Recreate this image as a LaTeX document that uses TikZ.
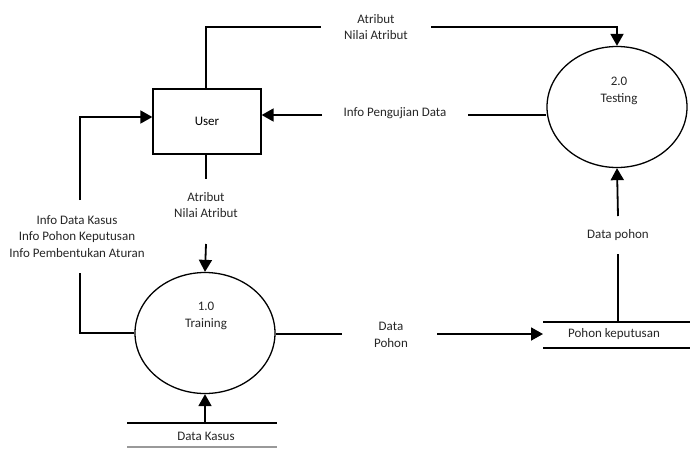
\documentclass[tikz,border=0pt]{standalone}
\usepackage{fontspec}
\setmainfont{Carlito}
\usetikzlibrary{arrows.meta,shapes.geometric}
\begin{document}
\begin{tikzpicture}[x=1pt,y=-1pt,
  every node/.style={font=\fontsize{13}{16.5}\selectfont, align=center, inner sep=0pt},
  flow/.style={line width=1.8pt},
  arr/.style={flow,-{Triangle[length=12pt,width=13pt]}},
  proc/.style={draw, ellipse, line width=1.3pt, minimum width=140pt, minimum height=121pt},
  ent/.style={draw, rectangle, line width=1.3pt, minimum width=108pt, minimum height=65pt},
  lbl/.style={text=black!85}
]
\useasboundingbox (0,0) rectangle (690,448);

% main nodes
\node[ent] (user) at (207,121.5) {User};
\node[proc] (train) at (205,333) {};
\node[lbl] (traint) at (206,316) {1.0\\Training};
\node[proc] (test) at (617,107) {};
\node[lbl] (testt) at (619,91) {2.0\\Testing};

% data stores
\coordinate (pkTL) at (543,322);
\coordinate (pkTR) at (690,322);
\coordinate (pkBL) at (543,348);
\coordinate (pkBR) at (690,348);
\draw[line width=1.6pt] (pkTL) -- (pkTR);
\draw[line width=1.6pt] (pkBL) -- (pkBR);
\node[lbl] (pk) at (614,334) {Pohon keputusan};

\coordinate (dkTL) at (127,423);
\coordinate (dkTR) at (277,423);
\coordinate (dkBL) at (127,447);
\coordinate (dkBR) at (277,447);
\draw[line width=1.6pt] (dkTL) -- (dkTR);
\draw[line width=1.2pt, black!40] (dkBL) -- (dkBR);
\node[lbl] (dk) at (206,436) {Data Kasus};

% labels
\node[lbl] (l1) at (376,27) {Atribut\\Nilai Atribut};
\node[lbl] (l2) at (395,113) {Info Pengujian Data};
\node[lbl] (l3) at (206,205) {Atribut\\Nilai Atribut};
\node[lbl] (l4) at (77,236.5) {Info Data Kasus\\Info Pohon Keputusan\\Info Pembentukan Aturan};
\node[lbl] (l5) at (391,335) {Data\\Pohon};
\node[lbl] (l6) at (618,235) {Data pohon};

% gap ends
\coordinate (g1a) at (321,27);
\coordinate (g1b) at (431,27);
\coordinate (g2a) at (322,115);
\coordinate (g2b) at (468,115);
\coordinate (g3a) at (206,179);
\coordinate (g3b) at (206,244);
\coordinate (g4a) at (80,200);
\coordinate (g4b) at (80,273);
\coordinate (g5a) at (342,334);
\coordinate (g5b) at (437,334);
\coordinate (g6a) at (618,216);
\coordinate (g6b) at (618,254);
\coordinate (c4) at (80,117);

% connectors
\draw[flow] (user.north -| g3a) |- (g1a);
\draw[arr] (g1b) -| (test.north);

\draw[flow] (g2b -| test.west) -- (g2b);
\draw[arr] (g2a) -- (g2a -| user.east);

\draw[flow] (user.south -| g3a) -- (g3a);
\draw[arr] (g3b) -- (train.north);

\draw[flow] (train.west) -| (g4b);
\draw[arr] (g4a) -- (c4) -- (c4 -| user.west);

\draw[flow] (g5a -| train.east) -- (g5a);
\draw[arr] (g5b) -- (pkTL |- g5b);

\draw[flow] (pkTL -| g6b) -- (g6b);
\draw[arr] (g6a) -- (test.south);

\draw[arr] (dkTL -| train.south) -- (train.south);
\end{tikzpicture}
\end{document}
